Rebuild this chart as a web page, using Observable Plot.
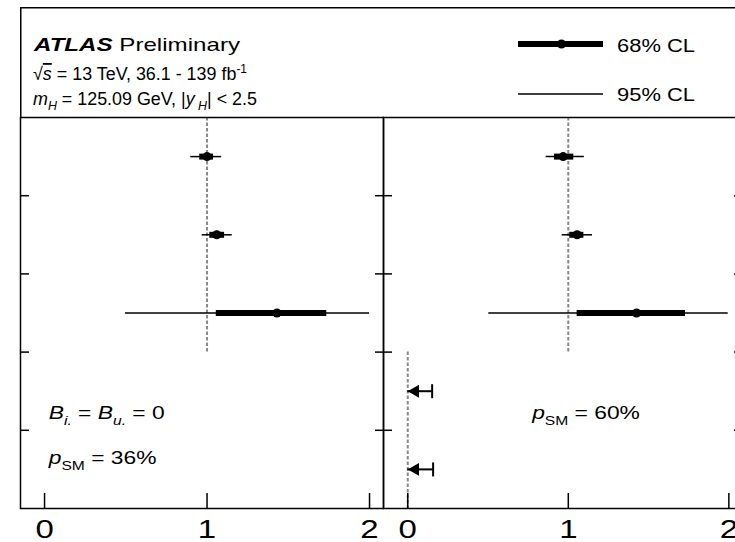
<!DOCTYPE html>
<html><head><meta charset="utf-8">
<script src="https://cdn.jsdelivr.net/npm/d3@7"></script>
<script src="https://cdn.jsdelivr.net/npm/@observablehq/plot@0.6"></script>
<style>
body{margin:0;background:#fff;}
#fig{position:relative;width:735px;height:542px;overflow:hidden;font-family:"Liberation Sans",Arial,sans-serif;background:#fff;}
#header{position:absolute;left:0;top:0;}
#left,#right{position:absolute;top:116px;}
#left{left:0;width:384px;}
#right{left:382px;width:360px;}
#fig svg{max-width:none !important;}
</style></head><body>
<div id="fig">
<svg id="header" width="735" height="118" font-family="Liberation Sans, Arial, sans-serif">
  <path d="M20.75,118V7.75H760" fill="none" stroke="#000" stroke-width="1.5"/>
  <text class="stretch" data-target="206" x="34" y="51" font-size="19"><tspan font-weight="bold" font-style="italic">ATLAS</tspan> Preliminary</text>
  <text class="stretch" data-target="214" x="33" y="80" font-size="18">√<tspan font-style="italic" text-decoration="overline">s</tspan> = 13 TeV, 36.1 - 139 fb<tspan font-size="12" dy="-7">-1</tspan></text>
  <text class="stretch" data-target="224" x="33" y="105" font-size="18"><tspan font-style="italic">m</tspan><tspan font-style="italic" font-size="12.5" dy="5">H</tspan><tspan dy="-5"> = 125.09 GeV, |</tspan><tspan font-style="italic">y</tspan><tspan font-style="italic" font-size="12.5" dy="5"> H</tspan><tspan dy="-5">| &lt; 2.5</tspan></text>
  <line x1="518" x2="603" y1="44" y2="44" stroke="#000" stroke-width="6"/>
  <circle cx="561.5" cy="44" r="4.5" fill="#000"/>
  <text class="stretch" data-target="78" x="617" y="52" font-size="18">68% CL</text>
  <line x1="518" x2="603" y1="94" y2="94" stroke="#000" stroke-width="1.5"/>
  <text class="stretch" data-target="78" x="617" y="101" font-size="18">95% CL</text>
</svg>
<div id="left"></div><div id="right"></div>
</div>
<script>
// ---------- data ----------
const rows = [0.5, 1.5, 2.5];             // row centres (top = 0)
const limitRows = [3.5, 4.5];
const xTickValues = [0, 1, 2];
const rowBoundaries = [1, 2, 3, 4];

const leftCentral = [1.00, 1.06, 1.43];
const leftLo68   = [0.955, 1.017, 1.057];
const leftHi68   = [1.040, 1.108, 1.737];
const leftLo95   = [0.900, 0.970, 0.498];
const leftHi95   = [1.090, 1.155, 2.000];

const rightCentral = [0.968, 1.055, 1.425];
const rightLo68   = [0.914, 1.009, 1.055];
const rightHi68   = [1.034, 1.097, 1.730];
const rightLo95   = [0.862, 0.962, 0.505];
const rightHi95   = [1.100, 1.151, 1.996];
const rightUpperLimits = [0.152, 0.158];

const leftRefLines  = [{x: 1, y1: 0, y2: 3}];
const rightRefLines = [{x: 1, y1: 0, y2: 3}, {x: 0, y1: 3, y2: 5}];

const leftNotes  = [{x: 0.026, y: 3.85, text: "B_i. = B_u. = 0"}, {x: 0.026, y: 4.43, text: "p_SM = 36%"}];
const rightNotes = [{x: 0.775, y: 3.85, text: "p_SM = 60%"}];

// rich text (sub/italic) for annotations
const richText = {
  "B_i. = B_u. = 0": [["B","i"],["i.","isub"],[" = ",""],["B","i"],["u.","isub"],[" = 0",""]],
  "p_SM = 36%": [["p","i"],["SM","sub"],[" = 36%",""]],
  "p_SM = 60%": [["p","i"],["SM","sub"],[" = 60%",""]]
};

const capSymbol = {draw(ctx, size) { const h = Math.sqrt(size / Math.PI); ctx.moveTo(0, -h); ctx.lineTo(0, h); }};

function buildPanel({central, lo68, hi68, lo95, hi95, limits, refLines, notes, width, marginLeft, marginRight, domain}) {
  const pts = central.map((c, i) => ({row: rows[i], c, lo68: lo68[i], hi68: hi68[i], lo95: lo95[i], hi95: hi95[i]}));
  const lims = (limits || []).map((u, i) => ({row: limitRows[i], ul: u}));
  const height = 426, marginTop = 1, marginBottom = 34;
  const plotW = width - marginLeft - marginRight;
  const plotH = height - marginTop - marginBottom;
  return Plot.plot({
    width, height, marginLeft, marginRight, marginTop, marginBottom,
    style: {fontFamily: "Liberation Sans, Arial, sans-serif", background: "transparent", overflow: "visible"},
    x: {domain, axis: null},
    y: {domain: [5, 0], axis: null},
    marks: [
      Plot.ruleX(refLines, {x: "x", y1: "y1", y2: "y2", stroke: "#8a8a8a", strokeWidth: 2, strokeDasharray: "3.5,2"}),
      Plot.gridX(xTickValues, {insetTop: plotH - 15, stroke: "#000", strokeOpacity: 1, strokeWidth: 1.5}),
      Plot.gridY(rowBoundaries, {insetRight: plotW - 9, stroke: "#000", strokeOpacity: 1, strokeWidth: 1.5}),
      Plot.gridY(rowBoundaries, {insetLeft: plotW - 8, stroke: "#000", strokeOpacity: 1, strokeWidth: 1.5}),
      Plot.ruleY(pts, {y: "row", x1: "lo95", x2: "hi95", stroke: "#000", strokeWidth: 1.5}),
      Plot.ruleY(pts, {y: "row", x1: "lo68", x2: "hi68", stroke: "#000", strokeWidth: 6}),
      Plot.dot(pts, {x: "c", y: "row", r: 4.5, fill: "#000"}),
      Plot.ruleY(lims, {y: "row", x1: () => 0, x2: "ul", stroke: "#000", strokeWidth: 2}),
      Plot.dot(lims, {x: () => 0, y: "row", symbol: "triangle", rotate: -90, r: 4.8, fill: "#000", dx: 7.5}),
      Plot.dot(lims, {x: "ul", y: "row", symbol: capSymbol, r: 7, stroke: "#000", strokeWidth: 2, fill: "none"}),
      Plot.text(notes, {x: "x", y: "y", text: "text", textAnchor: "start", lineAnchor: "bottom", fontSize: 19, fill: "#000"}),
      Plot.axisX({ticks: xTickValues, tickSize: 0, tickPadding: 12, fontSize: 25, label: null, tickFormat: d => String(d)}),
      Plot.frame({stroke: "#000", strokeWidth: 1.5})
    ]
  });
}

function enrich(svg) {
  svg.querySelectorAll("text").forEach(t => {
    const key = t.textContent;
    const segs = richText[key];
    if (!segs) return;
    while (t.firstChild) t.removeChild(t.firstChild);
    let shifted = 0;
    for (const [s, st] of segs) {
      const ts = document.createElementNS("http://www.w3.org/2000/svg", "tspan");
      ts.textContent = s;
      if (st.includes("i") && st !== "sub") ts.setAttribute("font-style", "italic");
      const isSub = st.endsWith("sub");
      if (isSub) { ts.setAttribute("font-size", "13"); ts.setAttribute("dy", 6 - shifted); shifted = 6; }
      else if (shifted) { ts.setAttribute("dy", -shifted); shifted = 0; }
      t.appendChild(ts);
    }
    t.setAttribute("data-rich", "1");
  });
}

// widen glyphs horizontally (the reference figure is horizontally stretched)
function stretchText(t, factor, target) {
  const w = t.getComputedTextLength();
  if (!w) return;
  t.setAttribute("textLength", target ? target : w * factor);
  t.setAttribute("lengthAdjust", "spacingAndGlyphs");
}

const left = buildPanel({central: leftCentral, lo68: leftLo68, hi68: leftHi68, lo95: leftLo95, hi95: leftHi95,
  limits: [], refLines: leftRefLines, notes: leftNotes, width: 384, marginLeft: 20, marginRight: 1, domain: [-0.148, 2.086]});
const right = buildPanel({central: rightCentral, lo68: rightLo68, hi68: rightHi68, lo95: rightLo95, hi95: rightHi95,
  limits: rightUpperLimits, refLines: rightRefLines, notes: rightNotes, width: 360, marginLeft: 1, marginRight: 0, domain: [-0.151, 2.085]});
enrich(left); enrich(right);
document.getElementById("left").appendChild(left);
document.getElementById("right").appendChild(right);

for (const svg of [left, right]) {
  svg.querySelectorAll("text").forEach(t => {
    if (t.getAttribute("data-rich")) stretchText(t, 1.2);
    else stretchText(t, 1.32);
  });
}
document.querySelectorAll("#header text.stretch").forEach(t => stretchText(t, 1, +t.dataset.target));
</script>
</body></html>
